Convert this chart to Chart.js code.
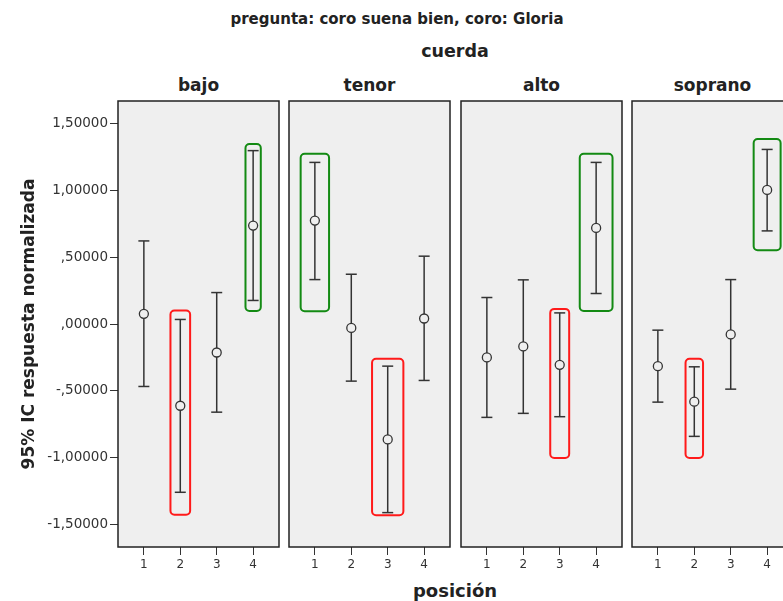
<!DOCTYPE html>
<html>
<head>
<meta charset="utf-8">
<script src="https://cdn.jsdelivr.net/npm/chart.js@4.4.1/dist/chart.umd.min.js"></script>
<style>
  html, body { margin: 0; padding: 0; background: #fff; overflow: hidden; }
  #wrap { position: relative; width: 800px; height: 601px; }
  #wrap canvas { position: absolute; top: 0; }
  .lbl {
    position: absolute; white-space: nowrap; line-height: 1;
    font-family: "DejaVu Sans", sans-serif; font-weight: bold; color: #222;
    transform: translateX(-50%);
  }
</style>
</head>
<body>
<div id="wrap">
  <div class="lbl" style="left:397px; top:11.5px; font-size:15px;">pregunta: coro suena bien, coro: Gloria</div>
  <div class="lbl" style="left:455px; top:43px; font-size:17.5px;">cuerda</div>
  <div class="lbl" id="p0" style="top:77px; font-size:17px;"></div>
  <div class="lbl" id="p1" style="top:77px; font-size:17px;"></div>
  <div class="lbl" id="p2" style="top:77px; font-size:17px;"></div>
  <div class="lbl" id="p3" style="top:77px; font-size:17px;"></div>
  <div class="lbl" style="left:455px; top:581.5px; font-size:18px;">posición</div>
</div>
<script>
// Categories
const cuerdas = ['bajo', 'tenor', 'alto', 'soprano'];
const posiciones = [1, 2, 3, 4];
const yTicks = [-1.5, -1.0, -0.5, 0, 0.5, 1.0, 1.5];

// Means and 95% CI bounds per voice section, ordered by posición 1..4
const bajoMedia    = [0.076, -0.611, -0.213, 0.736];
const bajoInf      = [-0.467, -1.258, -0.659, 0.176];
const bajoSup      = [0.621, 0.034, 0.235, 1.296];

const tenorMedia   = [0.773, -0.029, -0.863, 0.041];
const tenorInf     = [0.332, -0.427, -1.410, -0.422];
const tenorSup     = [1.208, 0.372, -0.315, 0.507];

const altoMedia    = [-0.250, -0.168, -0.305, 0.718];
const altoInf      = [-0.698, -0.668, -0.693, 0.228];
const altoSup      = [0.198, 0.330, 0.083, 1.208];

const sopranoMedia = [-0.315, -0.581, -0.078, 1.002];
const sopranoInf   = [-0.584, -0.840, -0.487, 0.696];
const sopranoSup   = [-0.046, -0.320, 0.332, 1.305];

// Highlighted intervals: [cuerda, posición, upper value, lower value, half width in category units, kind]
const marcos = [
  ['bajo',    2,  0.100, -1.425, 0.27, 'bajo'],
  ['bajo',    4,  1.346,  0.098, 0.21, 'alto'],
  ['tenor',   1,  1.273,  0.096, 0.39, 'alto'],
  ['tenor',   3, -0.260, -1.430, 0.43, 'bajo'],
  ['alto',    3,  0.113, -1.002, 0.26, 'bajo'],
  ['alto',    4,  1.273,  0.098, 0.45, 'alto'],
  ['soprano', 2, -0.260, -1.002, 0.24, 'bajo'],
  ['soprano', 4,  1.383,  0.551, 0.37, 'alto']
];

const series = {
  bajo:    { media: bajoMedia,    inf: bajoInf,    sup: bajoSup },
  tenor:   { media: tenorMedia,   inf: tenorInf,   sup: tenorSup },
  alto:    { media: altoMedia,    inf: altoInf,    sup: altoSup },
  soprano: { media: sopranoMedia, inf: sopranoInf, sup: sopranoSup }
};

const FONT = '"DejaVu Sans", sans-serif';
const INK = '#333333';
const PANEL_BG = '#efefef';
const PLOT_TOP = 101;
const XAXIS_H = 54;
const PANEL_W = 161;
const YAXIS_W = 118;
const panelLeft = [118, 289, 461, 632];
const markColor = { bajo: '#ff1a1a', alto: '#138a13' };

function fmt(v) {
  let s = Math.abs(v).toFixed(5).replace('.', ',');
  if (s.startsWith('0,')) s = s.slice(1);
  return (v < 0 ? '-' : '') + s;
}

// Panel background, frame and highlight boxes
const panelPlugin = {
  id: 'panel',
  beforeDraw(chart) {
    const a = chart.chartArea, ctx = chart.ctx;
    ctx.save();
    ctx.fillStyle = PANEL_BG;
    ctx.fillRect(a.left, a.top, a.right - a.left, a.bottom - a.top);
    ctx.restore();
  },
  afterDatasetsDraw(chart) {
    const ctx = chart.ctx, xs = chart.scales.x, ys = chart.scales.y;
    const name = chart.options.plugins.panel.cuerda;
    ctx.save();
    ctx.lineWidth = 2;
    marcos.filter(m => m[0] === name).forEach(m => {
      const x0 = xs.getPixelForValue(m[1] - m[4]);
      const x1 = xs.getPixelForValue(m[1] + m[4]);
      const y0 = ys.getPixelForValue(m[2]);
      const y1 = ys.getPixelForValue(m[3]);
      ctx.strokeStyle = markColor[m[5]];
      ctx.beginPath();
      ctx.roundRect(x0, y0, x1 - x0, y1 - y0, 4);
      ctx.stroke();
    });
    ctx.restore();
  },
  afterDraw(chart) {
    const a = chart.chartArea, ctx = chart.ctx;
    ctx.save();
    ctx.strokeStyle = '#222';
    ctx.lineWidth = 1.5;
    ctx.strokeRect(a.left, a.top, a.right - a.left, a.bottom - a.top);
    ctx.restore();
  }
};

function buildChart(idx) {
  const name = cuerdas[idx];
  const s = series[name];
  const first = idx === 0;
  const canvas = document.createElement('canvas');
  const left = first ? 0 : panelLeft[idx] - 2;
  const width = first ? YAXIS_W + PANEL_W + 2 : PANEL_W + 4;
  canvas.width = width;
  canvas.height = 601;
  canvas.style.left = left + 'px';
  canvas.style.width = width + 'px';
  canvas.style.height = '601px';
  document.getElementById('wrap').appendChild(canvas);

  const lbl = document.getElementById('p' + idx);
  lbl.textContent = name;
  lbl.style.left = (panelLeft[idx] + PANEL_W / 2) + 'px';

  const datasets = [];
  datasets.push({
    label: 'media',
    data: posiciones.map((p, i) => ({ x: p, y: s.media[i] })),
    pointStyle: 'circle', pointRadius: 4.5, pointBorderWidth: 1.3,
    pointBorderColor: INK, pointBackgroundColor: PANEL_BG
  });
  datasets.push({
    label: 'extremos',
    data: posiciones.flatMap((p, i) => [{ x: p, y: s.inf[i] }, { x: p, y: s.sup[i] }]),
    pointStyle: 'line', pointRadius: 5.5, pointBorderWidth: 1.5,
    pointBorderColor: INK, pointBackgroundColor: INK
  });
  posiciones.forEach((p, i) => {
    datasets.push({
      label: 'IC ' + p,
      data: [{ x: p, y: s.inf[i] }, { x: p, y: s.sup[i] }],
      showLine: true, pointRadius: 0, borderWidth: 1.5, borderColor: INK
    });
  });

  return new Chart(canvas, {
    type: 'scatter',
    data: { datasets },
    plugins: [panelPlugin],
    options: {
      responsive: false,
      animation: false,
      devicePixelRatio: 1,
      layout: {
        autoPadding: false,
        padding: { top: PLOT_TOP, bottom: 0, left: first ? 0 : 2, right: 2 }
      },
      plugins: {
        legend: { display: false },
        tooltip: { enabled: false },
        panel: { cuerda: name }
      },
      scales: {
        x: {
          type: 'linear', min: 0.29, max: 4.71,
          afterBuildTicks: sc => { sc.ticks = posiciones.map(v => ({ value: v })); },
          afterFit: sc => { sc.height = XAXIS_H; sc.paddingLeft = 0; sc.paddingRight = 0; },
          border: { display: false },
          grid: { drawOnChartArea: false, drawTicks: true, tickLength: 8, color: INK, lineWidth: 1 },
          ticks: { color: INK, padding: 3, font: { family: FONT, size: 12 }, maxRotation: 0,
                   callback: v => String(v) }
        },
        y: {
          type: 'linear', min: -1.667, max: 1.667,
          display: first,
          afterBuildTicks: sc => { sc.ticks = yTicks.map(v => ({ value: v })); },
          afterFit: sc => {
            if (first) sc.width = YAXIS_W;
            sc.paddingTop = 0; sc.paddingBottom = 0;
          },
          border: { display: false },
          grid: { drawOnChartArea: false, drawTicks: true, tickLength: 8, color: INK, lineWidth: 1 },
          ticks: { color: INK, padding: 2, font: { family: FONT, size: 13.5 }, callback: v => fmt(v) },
          title: {
            display: true, text: '95% IC respuesta normalizada', color: '#222',
            font: { family: FONT, size: 17, weight: 'bold' }, padding: { top: 19, bottom: 0 }
          }
        }
      }
    }
  });
}

cuerdas.forEach((c, i) => buildChart(i));
</script>
</body>
</html>
